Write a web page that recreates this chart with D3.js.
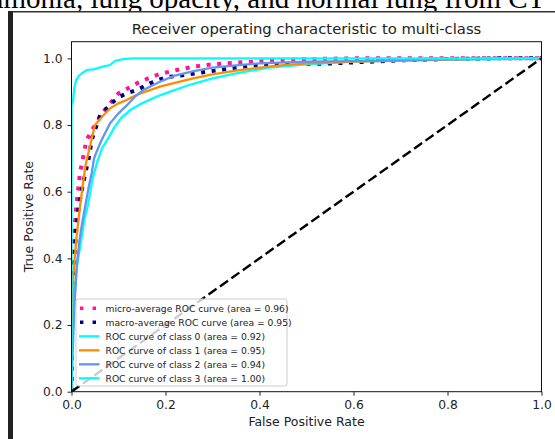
<!DOCTYPE html>
<html>
<head>
<meta charset="utf-8">
<script src="https://cdn.jsdelivr.net/npm/d3@7"></script>
<style>
  body { margin: 0; background: #fff; }
  svg { display: block; }
  .sans { font-family: "DejaVu Sans", sans-serif; fill: #222; }
</style>
</head>
<body>
<svg id="chart" width="555" height="439"></svg>
<script>
// ROC points (false positive rate / true positive rate)
const fprMicro = [0, 0, 0.003, 0.005, 0.01, 0.018, 0.025, 0.032, 0.046, 0.068, 0.085, 0.1, 0.12, 0.139, 0.163, 0.188, 0.224, 0.259, 0.3, 0.35, 0.4, 0.45, 0.5, 0.6, 1];
const tprMicro = [0, 0.3, 0.4, 0.455, 0.555, 0.656, 0.705, 0.755, 0.79, 0.84, 0.87, 0.895, 0.91, 0.925, 0.94, 0.953, 0.965, 0.975, 0.982, 0.987, 0.991, 0.995, 0.998, 1, 1];

const fprMacro = [0, 0, 0.004, 0.007, 0.011, 0.016, 0.022, 0.03, 0.036, 0.043, 0.05, 0.061, 0.075, 0.089, 0.103, 0.117, 0.139, 0.167, 0.2, 0.24, 0.273, 0.316, 0.337, 0.373, 0.394, 0.48, 0.54, 0.6, 0.7, 0.8, 0.9, 1];
const tprMacro = [0, 0.25, 0.38, 0.425, 0.505, 0.56, 0.605, 0.66, 0.695, 0.755, 0.785, 0.83, 0.85, 0.87, 0.885, 0.895, 0.905, 0.925, 0.943, 0.95, 0.957, 0.965, 0.97, 0.976, 0.98, 0.983, 0.984, 0.988, 0.994, 0.998, 1, 1];

const fprClass0 = [0, 0.002, 0.006, 0.012, 0.02, 0.028, 0.035, 0.045, 0.055, 0.065, 0.078, 0.09, 0.105, 0.125, 0.15, 0.18, 0.21, 0.25, 0.3, 0.35, 0.42, 0.5, 0.6, 0.7, 0.8, 0.9, 1];
const tprClass0 = [0, 0.15, 0.28, 0.38, 0.45, 0.52, 0.56, 0.64, 0.69, 0.73, 0.76, 0.79, 0.82, 0.845, 0.865, 0.885, 0.9, 0.92, 0.94, 0.955, 0.972, 0.982, 0.99, 0.993, 0.996, 0.998, 1];

const fprClass1 = [0, 0.001, 0.004, 0.01, 0.018, 0.024, 0.03, 0.04, 0.05, 0.065, 0.082, 0.1, 0.117, 0.135, 0.153, 0.188, 0.224, 0.259, 0.3, 0.35, 0.4, 0.45, 0.5, 0.6, 0.7, 0.8, 0.9, 1];
const tprClass1 = [0, 0.2, 0.35, 0.455, 0.555, 0.62, 0.68, 0.74, 0.8, 0.825, 0.85, 0.865, 0.875, 0.888, 0.898, 0.915, 0.928, 0.94, 0.952, 0.963, 0.972, 0.98, 0.985, 0.99, 0.993, 0.996, 0.999, 1];

const fprClass2 = [0, 0.002, 0.006, 0.011, 0.017, 0.022, 0.029, 0.036, 0.043, 0.048, 0.055, 0.064, 0.082, 0.1, 0.117, 0.135, 0.153, 0.188, 0.22, 0.26, 0.3, 0.35, 0.4, 0.5, 0.6, 0.7, 0.8, 0.9, 1];
const tprClass2 = [0, 0.1, 0.25, 0.375, 0.455, 0.5, 0.555, 0.61, 0.656, 0.7, 0.725, 0.755, 0.805, 0.835, 0.858, 0.885, 0.905, 0.93, 0.948, 0.962, 0.972, 0.979, 0.985, 0.99, 0.992, 0.995, 0.997, 0.999, 1];

const fprClass3 = [0, 0, 0.003, 0.006, 0.01, 0.016, 0.022, 0.032, 0.046, 0.056, 0.067, 0.082, 0.093, 0.11, 0.13, 1];
const tprClass3 = [0, 0.86, 0.87, 0.91, 0.935, 0.948, 0.955, 0.965, 0.967, 0.971, 0.975, 0.98, 0.993, 0.998, 1, 1];

const seriesLabels = [
  'micro-average ROC curve (area = 0.96)',
  'macro-average ROC curve (area = 0.95)',
  'ROC curve of class 0 (area = 0.92)',
  'ROC curve of class 1 (area = 0.95)',
  'ROC curve of class 2 (area = 0.94)',
  'ROC curve of class 3 (area = 1.00)'
];
const xTicks = [0, 0.2, 0.4, 0.6, 0.8, 1.0];
const yTicks = [0, 0.2, 0.4, 0.6, 0.8, 1.0];

// styling, kept apart from the data
const colors = ['deeppink', 'navy', 'aqua', 'darkorange', 'cornflowerblue', 'aqua'];
const dotted = [true, true, false, false, false, false];

const series = [
  [fprMicro, tprMicro], [fprMacro, tprMacro], [fprClass0, tprClass0],
  [fprClass1, tprClass1], [fprClass2, tprClass2], [fprClass3, tprClass3]
].map(([xs, ys], i) => ({
  label: seriesLabels[i],
  color: colors[i],
  dotted: dotted[i],
  points: xs.map((x, j) => [x, ys[j]])
}));

const svg = d3.select('#chart');

// caption text of the page above the figure (cut off at the top)
svg.append('text')
  .attr('x', -11)
  .attr('y', 8)
  .style('font-family', '"Liberation Serif", "Times New Roman", serif')
  .style('font-size', '29px')
  .attr('fill', '#000')
  .text('umonia, lung opacity, and normal lung from CT');

svg.append('rect')
  .attr('x', 8).attr('y', 11)
  .attr('width', 547).attr('height', 428)
  .attr('fill', '#fff');

// dark frame of the screenshot
svg.append('rect').attr('x', 8).attr('y', 11).attr('width', 547).attr('height', 1.5).attr('fill', '#333');
svg.append('rect').attr('x', 8).attr('y', 11).attr('width', 5).attr('height', 428).attr('fill', '#222');

const plotLeft = 71.5, plotRight = 541.5, plotTop = 41.7, plotBottom = 391.7;

const x = d3.scaleLinear().domain([0, 1]).range([plotLeft, plotRight]);
const y = d3.scaleLinear().domain([0, 1.05]).range([plotBottom, plotTop]);

svg.append('defs').append('clipPath').attr('id', 'plotclip')
  .append('rect')
  .attr('x', plotLeft).attr('y', plotTop)
  .attr('width', plotRight - plotLeft).attr('height', plotBottom - plotTop);

const line = d3.line().x(d => x(d[0])).y(d => y(d[1]));

const plot = svg.append('g').attr('clip-path', 'url(#plotclip)');

plot.selectAll('path.roc')
  .data(series)
  .enter()
  .append('path')
  .attr('class', 'roc')
  .attr('d', d => line(d.points))
  .attr('fill', 'none')
  .attr('stroke', d => d.color)
  .attr('stroke-width', d => d.dotted ? 4 : 2.3)
  .attr('stroke-dasharray', d => d.dotted ? '4,6.6' : null);

// chance diagonal
plot.append('path')
  .attr('d', line([[0, 0], [1, 1]]))
  .attr('fill', 'none')
  .attr('stroke', '#000')
  .attr('stroke-width', 2.4)
  .attr('stroke-dasharray', '9.8,4.2');

// axes
const xAxis = svg.append('g')
  .attr('transform', `translate(0, ${plotBottom})`)
  .call(d3.axisBottom(x).tickValues(xTicks).tickFormat(d3.format('.1f')).tickSize(4).tickPadding(5));

const yAxis = svg.append('g')
  .attr('transform', `translate(${plotLeft}, 0)`)
  .call(d3.axisLeft(y).tickValues(yTicks).tickFormat(d3.format('.1f')).tickSize(4).tickPadding(5));

[xAxis, yAxis].forEach(a => {
  a.select('.domain').remove();
  a.selectAll('line').attr('stroke', '#222').attr('stroke-width', 1);
  a.selectAll('text')
    .attr('class', 'sans')
    .style('font-size', '12.3px')
    .attr('fill', '#222');
});

svg.append('rect')
  .attr('x', plotLeft).attr('y', plotTop)
  .attr('width', plotRight - plotLeft).attr('height', plotBottom - plotTop)
  .attr('fill', 'none')
  .attr('stroke', '#111')
  .attr('stroke-width', 1);

// titles
svg.append('text')
  .attr('class', 'sans')
  .attr('x', (plotLeft + plotRight) / 2)
  .attr('y', 33.5)
  .attr('text-anchor', 'middle')
  .style('font-size', '14.8px')
  .text('Receiver operating characteristic to multi-class');

svg.append('text')
  .attr('class', 'sans')
  .attr('x', (plotLeft + plotRight) / 2)
  .attr('y', 426)
  .attr('text-anchor', 'middle')
  .style('font-size', '12.5px')
  .text('False Positive Rate');

svg.append('text')
  .attr('class', 'sans')
  .attr('transform', `translate(33, ${(plotTop + plotBottom) / 2}) rotate(-90)`)
  .attr('text-anchor', 'middle')
  .style('font-size', '12.5px')
  .text('True Positive Rate');

// legend
const legend = svg.append('g');
legend.append('rect')
  .attr('x', 76).attr('y', 299)
  .attr('width', 211).attr('height', 87)
  .attr('rx', 2.5)
  .attr('fill', '#fff')
  .attr('fill-opacity', 0.8)
  .attr('stroke', '#ccc')
  .attr('stroke-width', 1);

const items = legend.selectAll('g.item')
  .data(series)
  .enter()
  .append('g')
  .attr('class', 'item')
  .attr('transform', (d, i) => `translate(0, ${308.3 + i * 14})`);

items.append('line')
  .attr('x1', 79).attr('x2', 99.5)
  .attr('stroke', d => d.color)
  .attr('stroke-width', d => d.dotted ? 3.6 : 2.3)
  .attr('stroke-dasharray', d => d.dotted ? '3.4,9.2' : null)
  .attr('stroke-dashoffset', d => d.dotted ? -1 : null);

items.append('text')
  .attr('class', 'sans')
  .attr('x', 105.5)
  .attr('dy', '0.35em')
  .style('font-size', '9.2px')
  .text(d => d.label);
</script>
</body>
</html>
